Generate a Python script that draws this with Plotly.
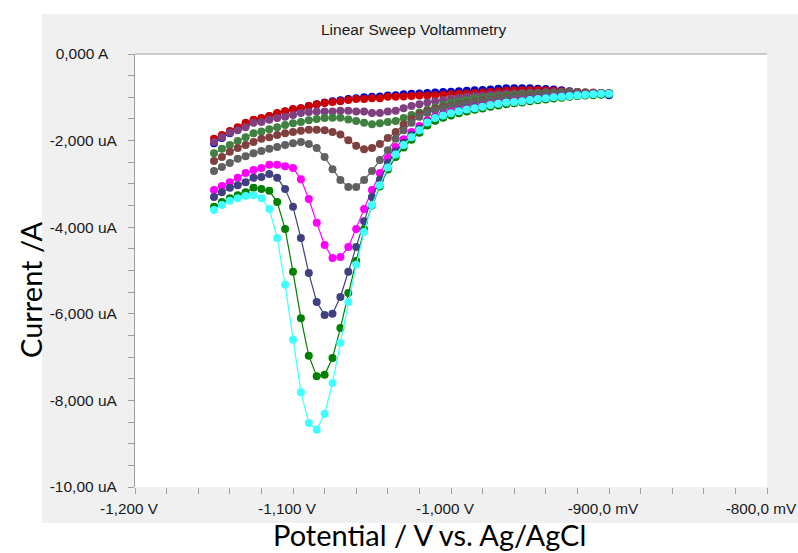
import plotly.graph_objects as go

# Potential sweep (V vs. Ag/AgCl), 5 mV steps
potential = [
    -1.150, -1.145, -1.140, -1.135, -1.130, -1.125, -1.120, -1.115, -1.110, -1.105,
    -1.100, -1.095, -1.090, -1.085, -1.080, -1.075, -1.070, -1.065, -1.060, -1.055,
    -1.050, -1.045, -1.040, -1.035, -1.030, -1.025, -1.020, -1.015, -1.010, -1.005,
    -1.000, -0.995, -0.990, -0.985, -0.980, -0.975, -0.970, -0.965, -0.960, -0.955,
    -0.950, -0.945, -0.940, -0.935, -0.930, -0.925, -0.920, -0.915, -0.910, -0.905,
    -0.900,
]

# Current in uA for each sweep
i_blue = [
    -2.06, -1.94, -1.83, -1.73, -1.64, -1.56, -1.50, -1.44, -1.38, -1.33,
    -1.28, -1.25, -1.20, -1.16, -1.12, -1.09, -1.07, -1.04, -1.02, -1.00,
    -0.99, -0.98, -0.96, -0.95, -0.93, -0.92, -0.91, -0.90, -0.89, -0.88,
    -0.87, -0.86, -0.85, -0.84, -0.83, -0.82, -0.80, -0.79, -0.79, -0.79,
    -0.79, -0.80, -0.81, -0.82, -0.84, -0.86, -0.88, -0.90, -0.92, -0.93,
    -0.95,
]
i_red = [
    -1.96, -1.87, -1.78, -1.69, -1.59, -1.52, -1.48, -1.43, -1.36, -1.32,
    -1.27, -1.25, -1.20, -1.16, -1.13, -1.11, -1.09, -1.06, -1.04, -1.04,
    -1.02, -1.02, -0.99, -0.99, -0.98, -0.97, -0.96, -0.96, -0.95, -0.94,
    -0.93, -0.92, -0.91, -0.90, -0.89, -0.88, -0.86, -0.85, -0.84, -0.84,
    -0.83, -0.83, -0.84, -0.85, -0.86, -0.87, -0.88, -0.89, -0.90, -0.90,
    -0.91,
]
i_purple = [
    -2.03, -1.92, -1.82, -1.76, -1.69, -1.59, -1.57, -1.52, -1.48, -1.45,
    -1.41, -1.36, -1.34, -1.33, -1.33, -1.33, -1.31, -1.31, -1.33, -1.33,
    -1.36, -1.36, -1.33, -1.31, -1.25, -1.20, -1.16, -1.12, -1.09, -1.06,
    -1.03, -1.01, -0.99, -0.97, -0.96, -0.94, -0.93, -0.92, -0.91, -0.90,
    -0.89, -0.89, -0.88, -0.88, -0.88, -0.88, -0.88, -0.89, -0.89, -0.90,
    -0.90,
]
i_sea = [
    -2.29, -2.19, -2.10, -2.01, -1.92, -1.83, -1.79, -1.74, -1.69, -1.64,
    -1.60, -1.57, -1.53, -1.50, -1.48, -1.47, -1.47, -1.51, -1.55, -1.59,
    -1.62, -1.60, -1.57, -1.55, -1.48, -1.41, -1.35, -1.29, -1.23, -1.17,
    -1.12, -1.09, -1.06, -1.03, -1.01, -0.99, -0.97, -0.95, -0.94, -0.93,
    -0.92, -0.91, -0.90, -0.90, -0.89, -0.89, -0.89, -0.89, -0.90, -0.90,
    -0.91,
]
i_brown = [
    -2.47, -2.38, -2.26, -2.17, -2.10, -2.03, -1.96, -1.92, -1.87, -1.83,
    -1.80, -1.77, -1.75, -1.75, -1.76, -1.80, -1.86, -1.99, -2.12, -2.20,
    -2.17, -2.08, -1.94, -1.80, -1.63, -1.50, -1.40, -1.32, -1.27, -1.23,
    -1.20, -1.16, -1.13, -1.10, -1.07, -1.05, -1.02, -1.00, -0.99, -0.97,
    -0.96, -0.95, -0.93, -0.92, -0.91, -0.91, -0.90, -0.90, -0.90, -0.91,
    -0.91,
]
i_gray = [
    -2.70, -2.61, -2.52, -2.42, -2.36, -2.29, -2.24, -2.19, -2.15, -2.10,
    -2.06, -2.03, -2.08, -2.17, -2.38, -2.66, -2.91, -3.07, -3.07, -2.91,
    -2.70, -2.45, -2.22, -1.96, -1.76, -1.59, -1.45, -1.36, -1.30, -1.26,
    -1.22, -1.18, -1.15, -1.12, -1.09, -1.06, -1.04, -1.02, -1.00, -0.98,
    -0.97, -0.95, -0.94, -0.93, -0.92, -0.92, -0.91, -0.91, -0.91, -0.91,
    -0.91,
]
i_magenta = [
    -3.14, -3.05, -2.96, -2.86, -2.75, -2.68, -2.63, -2.56, -2.56, -2.59,
    -2.63, -2.89, -3.35, -3.90, -4.41, -4.71, -4.69, -4.46, -4.04, -3.58,
    -3.14, -2.75, -2.40, -2.15, -1.97, -1.80, -1.66, -1.53, -1.44, -1.38,
    -1.33, -1.29, -1.25, -1.22, -1.19, -1.16, -1.13, -1.11, -1.09, -1.07,
    -1.05, -1.03, -1.01, -0.99, -0.98, -0.96, -0.95, -0.94, -0.93, -0.92,
    -0.92,
]
i_navy = [
    -3.30, -3.19, -3.09, -3.03, -2.96, -2.86, -2.84, -2.77, -2.86, -3.12,
    -3.53, -4.25, -5.06, -5.73, -6.03, -6.00, -5.61, -5.03, -4.46, -3.86,
    -3.30, -2.90, -2.52, -2.25, -2.05, -1.87, -1.72, -1.56, -1.46, -1.40,
    -1.35, -1.30, -1.26, -1.23, -1.20, -1.17, -1.14, -1.11, -1.10, -1.08,
    -1.05, -1.03, -1.01, -1.00, -0.98, -0.96, -0.95, -0.94, -0.93, -0.92,
    -0.92,
]
i_green = [
    -3.53, -3.42, -3.33, -3.26, -3.19, -3.09, -3.12, -3.16, -3.42, -4.04,
    -5.03, -6.10, -6.97, -7.44, -7.41, -7.02, -6.33, -5.52, -4.78, -4.05,
    -3.50, -3.06, -2.67, -2.38, -2.16, -1.98, -1.82, -1.65, -1.54, -1.47,
    -1.42, -1.37, -1.33, -1.29, -1.26, -1.22, -1.19, -1.16, -1.14, -1.12,
    -1.09, -1.07, -1.05, -1.03, -1.01, -0.99, -0.97, -0.96, -0.95, -0.94,
    -0.93,
]
i_cyan = [
    -3.60, -3.49, -3.39, -3.33, -3.28, -3.26, -3.33, -3.58, -4.25, -5.33,
    -6.60, -7.81, -8.52, -8.68, -8.31, -7.60, -6.67, -5.73, -4.87, -4.11,
    -3.49, -3.03, -2.62, -2.32, -2.10, -1.92, -1.76, -1.58, -1.48, -1.42,
    -1.37, -1.32, -1.28, -1.25, -1.22, -1.18, -1.15, -1.12, -1.11, -1.09,
    -1.06, -1.04, -1.02, -1.00, -0.99, -0.97, -0.95, -0.94, -0.93, -0.92,
    -0.92,
]

series = [i_blue, i_red, i_purple, i_sea, i_brown, i_gray,
          i_magenta, i_navy, i_green, i_cyan]
colors = ["#0000c8", "#cc0000", "#804080", "#408040", "#804040", "#606060",
          "#ff00ff", "#404080", "#008000", "#40ffff"]

x_ticks = [-1.2, -1.1, -1.0, -0.9, -0.8]
x_ticktext = ["-1,200 V", "-1,100 V", "-1,000 V", "-900,0 mV", "-800,0 mV"]
y_ticks = [0, -2, -4, -6, -8, -10]
y_ticktext = ["0,000 A&nbsp;&nbsp;", "-2,000 uA", "-4,000 uA", "-6,000 uA",
              "-8,000 uA", "-10,00 uA"]

W, H = 798, 553
L, R, T, B = 135, 31, 54, 66
pw, ph = W - L - R, H - T - B


def px_x(p):
    return (p - L) / pw


def px_y(p):
    return (H - B - p) / ph


fig = go.Figure()
for vals, col in zip(series, colors):
    fig.add_trace(go.Scatter(
        x=potential, y=vals, mode="lines+markers",
        line=dict(color=col, width=1.2),
        marker=dict(color=col, size=8, line=dict(width=0)),
        showlegend=False, hoverinfo="skip",
    ))

axis_gray = "#a0a0a0"
text_col = "#1a1a1a"
y_font = dict(family="Liberation Sans, Arial, sans-serif", size=15.5, color=text_col)
x_font = dict(family="Liberation Sans, Arial, sans-serif", size=15.3, color=text_col)

fig.update_layout(
    width=W, height=H,
    margin=dict(l=L, r=R, t=T, b=B),
    paper_bgcolor="white",
    plot_bgcolor="white",
    xaxis=dict(
        range=[-1.2, -0.8], showgrid=False, zeroline=False, showline=False,
        automargin=False,
        tickvals=x_ticks, ticktext=x_ticktext, tickfont=x_font,
        ticks="outside", ticklen=6, tickcolor=axis_gray, tickwidth=1,
        ticklabelshift=-6, ticklabelstandoff=2,
        minor=dict(dtick=0.02, ticks="outside", ticklen=6,
                   tickcolor=axis_gray, tickwidth=1, showgrid=False),
    ),
    yaxis=dict(
        range=[-10, 0], showgrid=False, zeroline=False,
        showline=True, linecolor=axis_gray, linewidth=1,
        automargin=False,
        tickvals=y_ticks, ticktext=y_ticktext, tickfont=y_font,
        ticks="", ticklabelstandoff=14,
        minor=dict(dtick=0.5, ticks="outside", ticklen=6,
                   tickcolor=axis_gray, tickwidth=1, showgrid=False),
    ),
    shapes=[
        # grey instrument panel behind the plot
        dict(type="rect", xref="paper", yref="paper", layer="below",
             x0=px_x(42), x1=px_x(W), y0=px_y(523), y1=px_y(14),
             fillcolor="#f0f0f0", line=dict(width=0)),
        # white plotting area
        dict(type="rect", xref="paper", yref="paper", layer="below",
             x0=0, x1=1, y0=0, y1=1,
             fillcolor="white", line=dict(width=0)),
        # top frame line
        dict(type="line", xref="paper", yref="paper",
             x0=0, x1=1, y0=1, y1=1,
             line=dict(color=axis_gray, width=1)),
    ],
    annotations=[
        dict(text="Linear Sweep Voltammetry", xref="paper", yref="paper",
             x=px_x(413), y=px_y(30), xanchor="center", yanchor="middle",
             showarrow=False, font=y_font),
        dict(text="Potential / V vs. Ag/AgCl", xref="paper", yref="paper",
             x=px_x(429), y=px_y(534), xanchor="center", yanchor="middle",
             showarrow=False,
             font=dict(family="Lato, sans-serif", size=29, color="black")),
        dict(text="Current /A", xref="paper", yref="paper",
             x=px_x(30), y=px_y(290), xanchor="center", yanchor="middle",
             textangle=-90, showarrow=False,
             font=dict(family="Lato, sans-serif", size=29, color="black")),
    ],
)

fig.write_html("out.html")
